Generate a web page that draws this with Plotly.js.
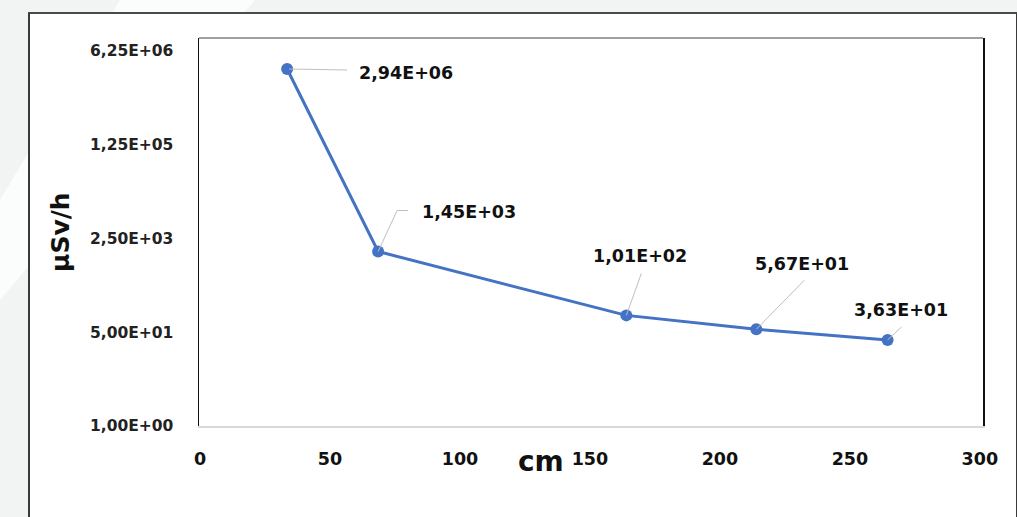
<!DOCTYPE html>
<html>
<head>
<meta charset="utf-8">
<script src="https://cdn.plot.ly/plotly-3.0.1.min.js"></script>
<style>
  html, body { margin:0; padding:0; width:1017px; height:517px; overflow:hidden; background:#f2f4f4; }
  #band { position:absolute; left:0; top:0; width:1017px; height:517px; background:#fbfcfc;
          clip-path: polygon(120px 0, 255px 0, 0 300px, 0 200px); }
  #frame { position:absolute; left:28px; top:12px; width:986px; height:520px; background:#ffffff;
           border-left:2px solid #3a3a3a; border-top:2px solid #4a4a4a; border-right:2px solid #3a3a3a; }
  #chart { position:absolute; left:0; top:0; width:1017px; height:517px; }
</style>
</head>
<body>
<div id="band"></div>
<div id="frame"></div>
<div id="chart"></div>
<script>
// Data
const distanceCm = [33.5, 68.5, 164, 214, 264.5];
const doseRate = [2.94e6, 1.45e3, 1.01e2, 5.67e1, 3.63e1];
const yTickVals = [1, 50, 2500, 125000, 6250000];
const xTickVals = [0, 50, 100, 150, 200, 250, 300];

// label placement (pixel offsets from each point) and leader-line paths
const labelShiftX = [119, 91, 14, 46, 13];
const labelShiftY = [-4, 40, 59, 65, 30];
const leaderPaths = [
  'M2,0 L60,-1',
  'M0,0 L19,41 L30,41',
  'M0,0 L15,42',
  'M0,0 L48,49',
  'M0,0 L14,13'
];

function fmtSci(v) {
  const s = v.toExponential(2);
  const parts = s.split('e');
  const mant = parts[0].replace('.', ',');
  let exp = parseInt(parts[1], 10);
  const sign = exp < 0 ? '-' : '+';
  exp = Math.abs(exp);
  return mant + 'E' + sign + (exp < 10 ? '0' + exp : '' + exp);
}

const FONT = 'DejaVu Sans, Verdana, sans-serif';

const trace = {
  x: distanceCm,
  y: doseRate,
  type: 'scatter',
  mode: 'lines+markers',
  line: { color: '#4472c4', width: 3 },
  marker: { color: '#4472c4', size: 12 },
  hoverinfo: 'x+y'
};

const annotations = distanceCm.map((x, i) => ({
  x: x,
  y: Math.log10(doseRate[i]),
  xref: 'x', yref: 'y',
  text: fmtSci(doseRate[i]),
  showarrow: false,
  xanchor: 'center', yanchor: 'middle',
  xshift: labelShiftX[i],
  yshift: labelShiftY[i],
  font: { family: FONT, size: 17.5, color: '#111111', weight: 'bold' }
}));

annotations.push({
  x: -0.1773, y: 0.5, xref: 'paper', yref: 'paper',
  text: 'µSv/h', textangle: -90, showarrow: false,
  xanchor: 'center', yanchor: 'middle',
  font: { family: FONT, size: 25, color: '#111111', weight: 'bold' }
});
annotations.push({
  x: 131, y: -0.092, xref: 'x', yref: 'paper',
  text: 'cm', showarrow: false,
  xanchor: 'center', yanchor: 'middle',
  font: { family: FONT, size: 28, color: '#111111', weight: 'bold' }
});

const leaderShapes = distanceCm.map((x, i) => ({
  type: 'path',
  xref: 'x', yref: 'y',
  xsizemode: 'pixel', ysizemode: 'pixel',
  xanchor: x, yanchor: doseRate[i],
  path: leaderPaths[i],
  line: { color: '#bfbfbf', width: 1 },
  layer: 'above'
}));

const layout = {
  width: 1017, height: 517,
  margin: { l: 199, r: 34, t: 38, b: 91, pad: 0 },
  paper_bgcolor: 'rgba(0,0,0,0)',
  plot_bgcolor: '#ffffff',
  showlegend: false,
  xaxis: {
    range: [-0.4, 301.2],
    tickvals: xTickVals,
    ticktext: xTickVals.map(String),
    showgrid: false, zeroline: false,
    showline: true, linecolor: '#d9d9d9', linewidth: 1.5,
    ticks: 'outside', ticklen: 16, tickcolor: 'rgba(0,0,0,0)',
    tickfont: { family: FONT, size: 17.5, color: '#111111', weight: 'bold' }
  },
  yaxis: {
    type: 'log',
    range: [0, 7.03],
    tickvals: yTickVals,
    ticktext: yTickVals.map(fmtSci),
    showgrid: false, zeroline: false,
    showline: true, linecolor: '#111111', linewidth: 1.5, mirror: true,
    ticks: 'outside', ticklen: 21, tickcolor: 'rgba(0,0,0,0)',
    tickfont: { family: FONT, size: 15.5, color: '#222222', weight: 'bold' }
  },
  shapes: [{
    type: 'line', xref: 'paper', yref: 'paper', x0: 0, x1: 1, y0: 1, y1: 1,
    line: { color: '#808080', width: 1.5 }
  }].concat(leaderShapes),
  annotations: annotations
};

Plotly.newPlot('chart', [trace], layout, { displayModeBar: false, staticPlot: true });
</script>
</body>
</html>
